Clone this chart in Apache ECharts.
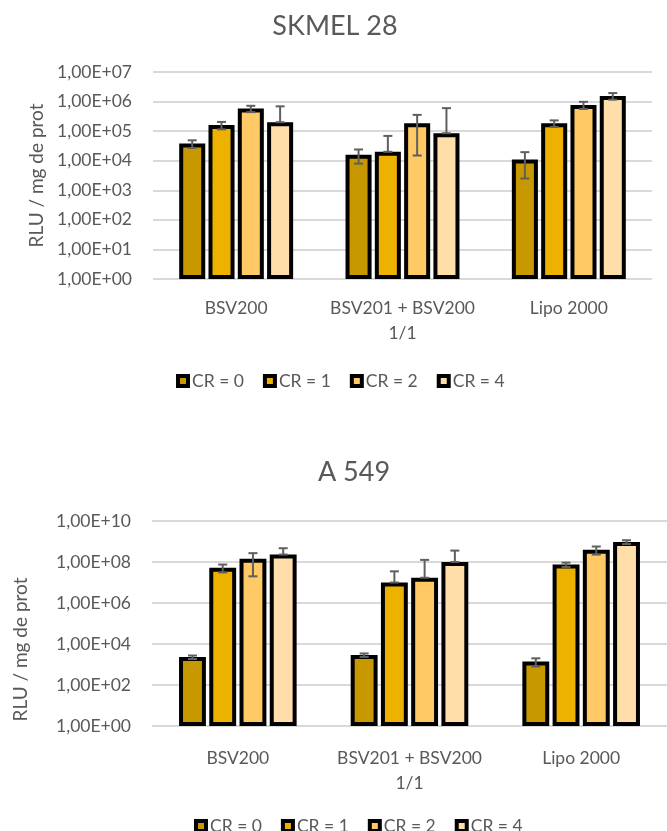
<!DOCTYPE html>
<html><head><meta charset="utf-8">
<script src="https://cdn.jsdelivr.net/npm/echarts@6/dist/echarts.min.js"></script>
<style>html,body{margin:0;padding:0;background:#fff}#c{width:667px;height:831px}</style>
</head><body><div id="c"></div>
<script>
// ---- data ----
const categories = ['BSV200', 'BSV201 + BSV200\n1/1', 'Lipo 2000'];
const seriesNames = ['CR = 0', 'CR = 1', 'CR = 2', 'CR = 4'];
const colors = ['#C89800', '#EDB200', '#FFC966', '#FFDEAA'];
const yAxisName = 'RLU / mg de prot';

const skmelTitle = 'SKMEL 28';
const skmelCR0 = [3.8e4, 1.6e4, 1.1e4];
const skmelCR1 = [1.6e5, 2.0e4, 1.85e5];
const skmelCR2 = [5.8e5, 1.85e5, 7.7e5];
const skmelCR4 = [2.0e5, 8.5e4, 1.55e6];
const skmelErrCR0 = [1.1e4, 8e3, 8.5e3];
const skmelErrCR1 = [4.5e4, 4.9e4, 4.6e4];
const skmelErrCR2 = [1.4e5, 1.7e5, 2.1e5];
const skmelErrCR4 = [4.9e5, 5.15e5, 3.9e5];
const skmelYMin = 1, skmelYMax = 1e7;

const a549Title = 'A 549';
const a549CR0 = [2.3e3, 2.9e3, 1.4e3];
const a549CR1 = [5.3e7, 1.0e7, 7.5e7];
const a549CR2 = [1.45e8, 1.7e7, 4.0e8];
const a549CR4 = [2.3e8, 1.0e8, 9.5e8];
const a549ErrCR0 = [4.5e2, 5.5e2, 6e2];
const a549ErrCR1 = [2.2e7, 2.5e7, 1.8e7];
const a549ErrCR2 = [1.25e8, 1.1e8, 1.7e8];
const a549ErrCR4 = [2.4e8, 2.6e8, 2.0e8];
const a549YMin = 1, a549YMax = 1e10;

// ---- styling ----
const FONT = 'Lato';
const TXT = '#595959';
const CAT_GAP = 0.315, BAR_GAP = 0.125;

function sciLabel(v) {
  const e = Math.round(Math.log10(v));
  return '1,00E+' + (e < 10 ? '0' + e : '' + e);
}

function errRenderer(idx, n) {
  return function (params, api) {
    const ci = api.value(0), v = api.value(1), e = api.value(2);
    const band = api.coord([1, v])[0] - api.coord([0, v])[0];
    const w = band * (1 - CAT_GAP) / (n + (n - 1) * BAR_GAP);
    const total = n * w + (n - 1) * w * BAR_GAP;
    const off = -total / 2 + idx * w * (1 + BAR_GAP) + w / 2;
    const hi = v + e;
    const lo = v - e > 0 ? v - e : v;
    const pHi = api.coord([ci, hi]);
    const pLo = api.coord([ci, lo]);
    const x = pHi[0] + off;
    const cap = 4.5;
    const st = { stroke: '#5F5F5F', lineWidth: 2 };
    return {
      type: 'group',
      children: [
        { type: 'line', shape: { x1: x, y1: pHi[1], x2: x, y2: pLo[1] }, style: st },
        { type: 'line', shape: { x1: x - cap, y1: pHi[1], x2: x + cap, y2: pHi[1] }, style: st },
        { type: 'line', shape: { x1: x - cap, y1: pLo[1], x2: x + cap, y2: pLo[1] }, style: st }
      ]
    };
  };
}

function buildSeries(gridIdx, vals, errs) {
  const out = [];
  vals.forEach((arr, i) => {
    out.push({
      name: seriesNames[i], type: 'bar', xAxisIndex: gridIdx, yAxisIndex: gridIdx,
      data: arr, barCategoryGap: (CAT_GAP * 100) + '%', barGap: (BAR_GAP * 100) + '%',
      itemStyle: { color: colors[i], borderColor: '#000', borderWidth: 4 },
      emphasis: { disabled: true }
    });
  });
  errs.forEach((arr, i) => {
    out.push({
      name: seriesNames[i], type: 'custom', xAxisIndex: gridIdx, yAxisIndex: gridIdx,
      renderItem: errRenderer(i, vals.length),
      data: arr.map((e, k) => [k, vals[i][k], e]),
      encode: { x: 0, y: 1 }, z: 5, silent: true
    });
  });
  return out;
}

function xAxis(gridIdx, margin) {
  return {
    type: 'category', gridIndex: gridIdx, data: categories,
    axisLine: { show: false }, axisTick: { show: false },
    axisLabel: { color: TXT, fontFamily: FONT, fontSize: 17.5, margin: margin, lineHeight: 25, interval: 0 }
  };
}
function yAxis(gridIdx, min, max, interval, nameGap, namePad) {
  return {
    type: 'log', logBase: 10, gridIndex: gridIdx, min: min, max: max, interval: interval,
    name: yAxisName, nameLocation: 'middle', nameGap: nameGap, nameRotate: 90,
    nameTextStyle: { color: TXT, fontFamily: FONT, fontSize: 19, padding: namePad },
    axisLine: { show: false }, axisTick: { show: false },
    axisLabel: { color: TXT, fontFamily: FONT, fontSize: 17.5, margin: 21, formatter: sciLabel },
    splitLine: { lineStyle: { color: '#D9D9D9', width: 2 } }
  };
}

const legendBase = {
  data: seriesNames, icon: 'rect', itemWidth: 10, itemHeight: 10, itemGap: 19,
  itemStyle: { borderColor: '#000', borderWidth: 4 },
  textStyle: { color: TXT, fontFamily: FONT, fontSize: 17.5, padding: [0, 0, 0, -1] },
  selectedMode: false
};

const option = {
  animation: false,
  backgroundColor: '#fff',
  title: [
    { text: skmelTitle, left: 330, top: 8, textAlign: 'center',
      textStyle: { color: TXT, fontFamily: FONT, fontSize: 27, fontWeight: 'normal' } },
    { text: a549Title, left: 349, top: 454, textAlign: 'center',
      textStyle: { color: TXT, fontFamily: FONT, fontSize: 27, fontWeight: 'normal' } }
  ],
  legend: [
    Object.assign({}, legendBase, { left: 171, top: 367 }),
    Object.assign({}, legendBase, { left: 189, top: 812 })
  ],
  grid: [
    { left: 153, right: 15, top: 72, height: 207 },
    { left: 152, right: -14, top: 521, height: 205 }
  ],
  xAxis: [xAxis(0, 17), xAxis(1, 20)],
  yAxis: [
    yAxis(0, skmelYMin, skmelYMax, 1, 106, [0, 0, 0, 0]),
    yAxis(1, a549YMin, a549YMax, 2, 122, [0, 52, 0, 0])
  ],
  series: [].concat(
    buildSeries(0, [skmelCR0, skmelCR1, skmelCR2, skmelCR4], [skmelErrCR0, skmelErrCR1, skmelErrCR2, skmelErrCR4]),
    buildSeries(1, [a549CR0, a549CR1, a549CR2, a549CR4], [a549ErrCR0, a549ErrCR1, a549ErrCR2, a549ErrCR4])
  )
};

const chart = echarts.init(document.getElementById('c'), null, { renderer: 'canvas' });
chart.setOption(option);
</script>
</body></html>
